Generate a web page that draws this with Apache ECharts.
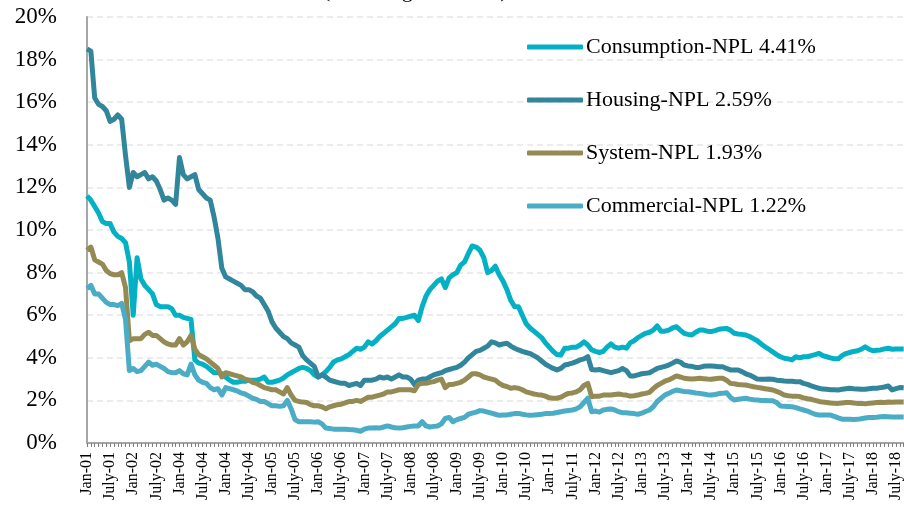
<!DOCTYPE html>
<html>
<head>
<meta charset="utf-8">
<script src="https://cdn.jsdelivr.net/npm/echarts@6/dist/echarts.min.js"></script>
<style>
  html, body { margin: 0; padding: 0; background: #fff; }
  #chartNpl { width: 904px; height: 505px; }
</style>
</head>
<body>
<div id="chartNpl"></div>
<script>
// x-axis tick labels, one every 6 months (kept as printed, incl. the repeated Jan-04/July-04)
var tickLabels = ['Jan-01', 'July-01', 'Jan-02', 'July-02', 'Jan-04', 'July-04', 'Jan-04', 'July-04',
  'Jan-05', 'July-05', 'Jan-06', 'July-06', 'Jan-07', 'July-07', 'Jan-08', 'July-08', 'Jan-09', 'July-09',
  'Jan-10', 'July-10', 'Jan-11', 'July-11', 'Jan-12', 'July-12', 'Jan-13', 'July-13', 'Jan-14', 'July-14',
  'Jan-15', 'July-15', 'Jan-16', 'July-16', 'Jan-17', 'July-17', 'Jan-18', 'July-18'];

var seriesNames = ['Consumption-NPL 4.41%', 'Housing-NPL 2.59%', 'System-NPL 1.93%', 'Commercial-NPL 1.22%'];

// monthly NPL ratios (%), Jan-2001 onwards
var consumption = [
  11.6, 11.4, 11.1, 10.8, 10.4, 10.3, 10.3, 9.9, 9.7, 9.6,
  9.4, 8.5, 6.0, 8.7, 7.7, 7.4, 7.2, 7.0, 6.5, 6.4,
  6.4, 6.4, 6.3, 6.0, 6.0, 5.9, 5.85, 5.8, 3.9, 3.75,
  3.7, 3.6, 3.45, 3.3, 3.3, 3.25, 3.1, 2.95, 2.85, 2.85,
  2.9, 2.9, 2.95, 2.95, 2.95, 3.0, 3.1, 2.85, 2.85, 2.9,
  2.95, 3.05, 3.2, 3.3, 3.4, 3.5, 3.55, 3.5, 3.4, 3.2,
  3.1, 3.2, 3.35, 3.55, 3.8, 3.9, 3.95, 4.05, 4.15, 4.3,
  4.45, 4.4, 4.5, 4.75, 4.65, 4.8, 5.0, 5.15, 5.3, 5.45,
  5.6, 5.85, 5.85, 5.9, 5.95, 6.0, 5.75, 6.4, 6.9, 7.2,
  7.4, 7.6, 7.7, 7.3, 7.75, 7.9, 8.0, 8.35, 8.5, 8.9,
  9.25, 9.2, 9.05, 8.7, 8.0, 8.1, 8.3, 7.9, 7.6, 7.2,
  6.7, 6.4, 6.4, 6.0, 5.6, 5.4, 5.25, 5.1, 4.95, 4.7,
  4.5, 4.3, 4.15, 4.13, 4.45, 4.45, 4.5, 4.5, 4.6, 4.75,
  4.6, 4.37, 4.3, 4.25, 4.3, 4.5, 4.65, 4.5, 4.45, 4.5,
  4.45, 4.7, 4.8, 4.95, 5.05, 5.15, 5.2, 5.3, 5.5, 5.25,
  5.25, 5.3, 5.4, 5.46, 5.3, 5.15, 5.1, 5.07, 5.2, 5.3,
  5.3, 5.25, 5.23, 5.28, 5.34, 5.36, 5.38, 5.3, 5.15, 5.12,
  5.1, 5.07, 5.0, 4.9, 4.8, 4.65, 4.52, 4.4, 4.28, 4.15,
  4.05, 3.98, 3.95, 3.9, 4.05, 4.0, 4.05, 4.05, 4.1, 4.15,
  4.21, 4.1, 4.05, 4.0, 3.95, 3.95, 4.1, 4.2, 4.25, 4.3,
  4.33, 4.4, 4.52, 4.4, 4.33, 4.35, 4.37, 4.42, 4.45, 4.4,
  4.41, 4.41, 4.41];

var housing = [
  18.5, 18.4, 16.2, 15.9, 15.8, 15.6, 15.1, 15.2, 15.4, 15.2,
  13.5, 12.0, 12.7, 12.5, 12.6, 12.7, 12.4, 12.5, 12.3, 11.9,
  11.4, 11.5, 11.4, 11.2, 13.4, 12.6, 12.4, 12.5, 12.6, 11.9,
  11.7, 11.5, 11.4, 10.6, 9.6, 8.2, 7.8, 7.7, 7.6, 7.5,
  7.4, 7.2, 7.2, 7.1, 6.9, 6.8, 6.5, 6.2, 5.7, 5.4,
  5.2, 5.0, 4.9, 4.7, 4.6, 4.5, 4.1, 3.9, 3.75, 3.6,
  3.1, 3.2, 3.1, 2.95, 2.9, 2.85, 2.8, 2.8, 2.7, 2.75,
  2.8, 2.7, 2.95, 2.95, 2.95, 3.0, 3.1, 3.05, 3.1, 3.0,
  3.1, 3.2, 3.1, 3.1, 3.0, 2.75, 2.95, 3.0, 3.0, 3.1,
  3.2, 3.25, 3.3, 3.4, 3.45, 3.5, 3.55, 3.65, 3.8, 4.0,
  4.15, 4.3, 4.35, 4.45, 4.55, 4.75, 4.7, 4.6, 4.65, 4.68,
  4.55, 4.45, 4.37, 4.3, 4.25, 4.2, 4.1, 4.0, 3.85, 3.7,
  3.6, 3.5, 3.43, 3.5, 3.66, 3.7, 3.75, 3.82, 3.9, 3.95,
  4.05, 3.45, 3.43, 3.45, 3.4, 3.35, 3.3, 3.35, 3.4, 3.5,
  3.4, 3.15, 3.15, 3.2, 3.25, 3.27, 3.3, 3.4, 3.5, 3.55,
  3.6, 3.66, 3.75, 3.85, 3.8, 3.66, 3.62, 3.6, 3.55, 3.55,
  3.6, 3.62, 3.62, 3.6, 3.58, 3.58, 3.5, 3.43, 3.43, 3.43,
  3.35, 3.25, 3.19, 3.1, 3.0, 2.99, 2.99, 3.0, 2.99, 2.95,
  2.93, 2.91, 2.9, 2.9, 2.88, 2.88, 2.8, 2.75, 2.68, 2.62,
  2.57, 2.53, 2.52, 2.5, 2.5, 2.49, 2.52, 2.55, 2.57, 2.55,
  2.54, 2.52, 2.52, 2.55, 2.57, 2.57, 2.6, 2.63, 2.68, 2.49,
  2.55, 2.6, 2.59];

var system = [
  9.05, 9.2, 8.6, 8.5, 8.4, 8.1, 7.95, 7.9, 7.9, 8.0,
  7.3, 4.8, 4.9, 4.9, 4.9, 5.1, 5.2, 5.05, 5.05, 4.9,
  4.75, 4.65, 4.6, 4.6, 4.9, 4.6, 4.75, 5.05, 4.4, 4.15,
  4.05, 3.95, 3.8, 3.65, 3.5, 3.1, 3.3, 3.25, 3.2, 3.15,
  3.1, 3.0, 2.95, 2.85, 2.8, 2.7, 2.6, 2.55, 2.5, 2.5,
  2.4, 2.3, 2.6, 2.25, 2.0, 1.95, 1.92, 1.9, 1.8, 1.75,
  1.75, 1.7, 1.6, 1.7, 1.75, 1.8, 1.82, 1.88, 1.95, 1.95,
  2.0, 1.95, 2.05, 2.15, 2.15, 2.2, 2.25, 2.3, 2.4, 2.4,
  2.45, 2.5, 2.5, 2.5, 2.5, 2.45, 2.75, 2.8, 2.8, 2.85,
  2.88, 2.95, 3.0, 2.6, 2.75, 2.75, 2.8, 2.85, 2.95, 3.1,
  3.25, 3.25, 3.2, 3.1, 3.05, 3.0, 2.95, 2.8, 2.7, 2.65,
  2.57, 2.6, 2.57, 2.5, 2.4, 2.35, 2.3, 2.27, 2.25, 2.2,
  2.12, 2.1, 2.1, 2.15, 2.25, 2.33, 2.35, 2.4, 2.5, 2.7,
  2.8, 2.17, 2.2, 2.2, 2.25, 2.25, 2.25, 2.28, 2.3, 2.27,
  2.25, 2.2, 2.22, 2.25, 2.3, 2.33, 2.38, 2.55, 2.7, 2.8,
  2.9, 2.96, 3.05, 3.15, 3.1, 3.04, 3.02, 3.0, 3.02, 3.04,
  3.02, 3.0, 2.99, 3.02, 3.04, 3.04, 2.95, 2.8, 2.78, 2.75,
  2.73, 2.72, 2.68, 2.64, 2.61, 2.58, 2.55, 2.52, 2.49, 2.42,
  2.35, 2.25, 2.22, 2.2, 2.2, 2.18, 2.12, 2.08, 2.05, 2.0,
  1.95, 1.92, 1.9, 1.88, 1.87, 1.86, 1.88, 1.9, 1.9, 1.88,
  1.86, 1.85, 1.84, 1.86, 1.88, 1.9, 1.91, 1.9, 1.92, 1.91,
  1.93, 1.93, 1.93];

var commercial = [
  7.25, 7.4, 7.0, 7.0, 6.8, 6.6, 6.5, 6.5, 6.45, 6.55,
  5.8, 3.4, 3.5, 3.35, 3.4, 3.6, 3.8, 3.65, 3.7, 3.6,
  3.5, 3.35, 3.3, 3.3, 3.4, 3.25, 3.2, 3.7, 3.2, 2.95,
  2.85, 2.8, 2.6, 2.5, 2.55, 2.25, 2.6, 2.55, 2.5, 2.45,
  2.35, 2.3, 2.2, 2.1, 2.05, 1.95, 1.95, 1.85, 1.75, 1.75,
  1.72, 1.75, 2.0, 1.6, 1.1, 1.0, 1.0, 1.0, 1.0, 0.98,
  1.0, 0.9, 0.7, 0.68, 0.65, 0.65, 0.65, 0.65, 0.63, 0.62,
  0.6, 0.55, 0.65, 0.7, 0.7, 0.72, 0.7, 0.75, 0.8, 0.75,
  0.72, 0.7, 0.72, 0.75, 0.78, 0.8, 0.8, 1.0, 0.8, 0.75,
  0.78, 0.8, 0.9, 1.15, 1.2, 1.0, 1.1, 1.15, 1.2, 1.35,
  1.4, 1.45, 1.52, 1.5, 1.45, 1.4, 1.35, 1.3, 1.31, 1.32,
  1.35, 1.38, 1.39, 1.35, 1.32, 1.3, 1.31, 1.33, 1.35, 1.38,
  1.39, 1.4, 1.43, 1.47, 1.5, 1.53, 1.55, 1.6, 1.7, 1.9,
  2.1, 1.47, 1.5, 1.45, 1.55, 1.58, 1.6, 1.55, 1.47, 1.42,
  1.42, 1.4, 1.38, 1.35, 1.4, 1.48, 1.55, 1.7, 1.95, 2.1,
  2.25, 2.33, 2.42, 2.49, 2.45, 2.42, 2.41, 2.38, 2.35, 2.33,
  2.3, 2.27, 2.25, 2.28, 2.32, 2.33, 2.36, 2.15, 2.02, 2.05,
  2.08, 2.1, 2.06, 2.03, 2.02, 2.0, 1.99, 1.98, 1.98, 1.9,
  1.74, 1.72, 1.71, 1.7, 1.66, 1.6, 1.55, 1.5, 1.42, 1.35,
  1.31, 1.31, 1.31, 1.31, 1.25, 1.18, 1.12, 1.11, 1.11, 1.1,
  1.11, 1.14, 1.17, 1.2, 1.2, 1.21, 1.23, 1.24, 1.23, 1.22,
  1.22, 1.22, 1.22];

var colors = ['#04b1c4', '#31869b', '#948a54', '#4bacc6'];
var serif = 'Liberation Serif';

// month categories, one per data point
var months = [];
for (var i = 0; i < consumption.length; i++) {
  months.push((2001 + Math.floor(i / 12)) + '-' + (i % 12 + 1));
}

var chartNpl = echarts.init(document.getElementById('chartNpl'));
var option = {
  animation: false,
  color: colors,
  title: {
    text: '(In % of gross loans)',
    left: 318,
    top: -25,
    textStyle: { fontFamily: serif, fontSize: 22, fontWeight: 'normal', color: '#000' }
  },
  grid: {
    left: 87,
    right: -2,
    top: 17,
    bottom: 62
  },
  legend: {
    orient: 'vertical',
    left: 527,
    top: 36,
    padding: 0,
    itemWidth: 56,
    itemHeight: 5,
    itemGap: 31,
    icon: 'roundRect',
    textStyle: { fontFamily: serif, fontSize: 22, color: '#000', padding: [0, 0, 0, -2] },
    data: seriesNames
  },
  xAxis: {
    type: 'category',
    boundaryGap: false,
    data: months,
    axisLine: { lineStyle: { color: '#a6a6a6', width: 2 } },
    axisTick: { show: true, interval: 0, length: 4, lineStyle: { color: '#808080' } },
    axisLabel: {
      interval: 5,
      rotate: 90,
      margin: 9,
      fontFamily: serif,
      fontSize: 16,
      color: '#000',
      formatter: function (v, idx) { return tickLabels[idx / 6] || ''; }
    },
    splitLine: { show: false }
  },
  yAxis: {
    type: 'value',
    min: 0,
    max: 20,
    interval: 2,
    axisLine: { show: true, lineStyle: { color: '#a6a6a6', width: 2 } },
    axisTick: { show: false },
    axisLabel: {
      margin: 30,
      fontFamily: serif,
      fontSize: 23,
      color: '#000',
      formatter: '{value}%'
    },
    splitLine: { lineStyle: { color: '#e6e6e6', type: [6, 4], width: 1.5 } }
  },
  series: [
    { name: seriesNames[0], type: 'line', data: consumption },
    { name: seriesNames[1], type: 'line', data: housing },
    { name: seriesNames[2], type: 'line', data: system },
    { name: seriesNames[3], type: 'line', data: commercial }
  ].map(function (s, k) {
    s.showSymbol = false;
    s.symbol = 'none';
    s.lineStyle = { width: 5, color: colors[k], join: 'round' };
    s.itemStyle = { color: colors[k] };
    return s;
  })
};
chartNpl.setOption(option);
</script>
</body>
</html>
